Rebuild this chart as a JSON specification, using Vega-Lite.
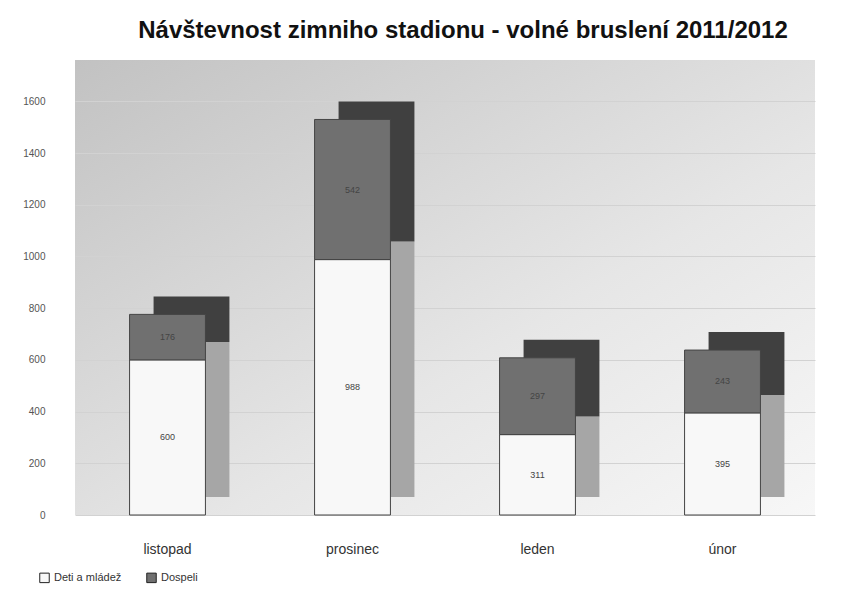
{
  "$schema": "https://vega.github.io/schema/vega-lite/v6.json",
  "autosize": "none",
  "width": 740,
  "height": 455,
  "padding": {"left": 75, "top": 60, "right": 44, "bottom": 77},
  "background": "white",
  "title": {
    "text": "Návštevnost zimniho stadionu - volné bruslení 2011/2012",
    "font": "Liberation Sans",
    "fontSize": 24,
    "fontWeight": "bold",
    "color": "#111",
    "anchor": "middle",
    "offset": 17,
    "dx": 18
  },
  "config": {
    "font": "Liberation Sans",
    "view": {
      "stroke": null,
      "fill": {
        "gradient": "linear",
        "x1": 0, "y1": 0, "x2": 1, "y2": 1,
        "stops": [
          {"offset": 0, "color": "#c2c2c2"},
          {"offset": 0.6, "color": "#e6e6e6"},
          {"offset": 1, "color": "#f7f7f7"}
        ]
      }
    }
  },
  "data": {
    "values": [
      {"mesic": "listopad", "skupina": "Deti a mládež", "pocet": 600},
      {"mesic": "listopad", "skupina": "Dospeli", "pocet": 176},
      {"mesic": "prosinec", "skupina": "Deti a mládež", "pocet": 988},
      {"mesic": "prosinec", "skupina": "Dospeli", "pocet": 542},
      {"mesic": "leden", "skupina": "Deti a mládež", "pocet": 311},
      {"mesic": "leden", "skupina": "Dospeli", "pocet": 297},
      {"mesic": "únor", "skupina": "Deti a mládež", "pocet": 395},
      {"mesic": "únor", "skupina": "Dospeli", "pocet": 243}
    ]
  },
  "transform": [
    {
      "stack": "pocet",
      "groupby": ["mesic"],
      "sort": [{"field": "skupina", "order": "ascending"}],
      "as": ["y0", "y1"]
    },
    {"calculate": "(datum.y0 + datum.y1) / 2", "as": "ymid"}
  ],
  "encoding": {
    "x": {
      "field": "mesic",
      "type": "nominal",
      "sort": ["listopad", "prosinec", "leden", "únor"],
      "scale": {"paddingInner": 0.59, "paddingOuter": 0.295},
      "axis": {
        "title": null,
        "labelAngle": 0,
        "labelFontSize": 14,
        "labelColor": "#333",
        "labelPadding": 27,
        "domain": false,
        "ticks": false
      }
    }
  },
  "layer": [
    {
      "mark": {"type": "bar", "xOffset": 24, "x2Offset": 24, "yOffset": -18, "y2Offset": -18},
      "encoding": {
        "y": {
          "field": "y0",
          "type": "quantitative",
          "scale": {"domain": [0, 1760], "nice": false},
          "axis": {
            "title": null,
            "values": [0, 200, 400, 600, 800, 1000, 1200, 1400, 1600],
            "format": "d",
            "labelFontSize": 10,
            "labelColor": "#555",
            "labelPadding": 30,
            "domain": false,
            "ticks": false,
            "grid": true,
            "gridColor": "#d2d2d2",
            "gridWidth": 1
          }
        },
        "y2": {"field": "y1"},
        "fill": {
          "field": "skupina",
          "type": "nominal",
          "scale": {"domain": ["Deti a mládež", "Dospeli"], "range": ["#a6a6a6", "#404040"]},
          "legend": null
        }
      }
    },
    {
      "mark": {"type": "bar", "stroke": "#444", "strokeWidth": 1},
      "encoding": {
        "y": {"field": "y0", "type": "quantitative"},
        "y2": {"field": "y1"},
        "fill": {
          "field": "skupina",
          "type": "nominal",
          "scale": {"domain": ["Deti a mládež", "Dospeli"], "range": ["#f8f8f8", "#707070"]},
          "legend": {
            "title": null,
            "orient": "none",
            "direction": "horizontal",
            "legendX": -36,
            "legendY": 512,
            "symbolType": "square",
            "symbolSize": 90,
            "symbolStrokeColor": "#222",
            "symbolStrokeWidth": 1,
            "labelFontSize": 11,
            "labelColor": "#333",
            "columnPadding": 22
          }
        }
      }
    },
    {
      "mark": {"type": "text", "fontSize": 9, "color": "#444"},
      "encoding": {
        "y": {"field": "ymid", "type": "quantitative"},
        "text": {"field": "pocet", "type": "quantitative"}
      }
    }
  ],
  "resolve": {"scale": {"fill": "independent"}, "legend": {"fill": "independent"}}
}
